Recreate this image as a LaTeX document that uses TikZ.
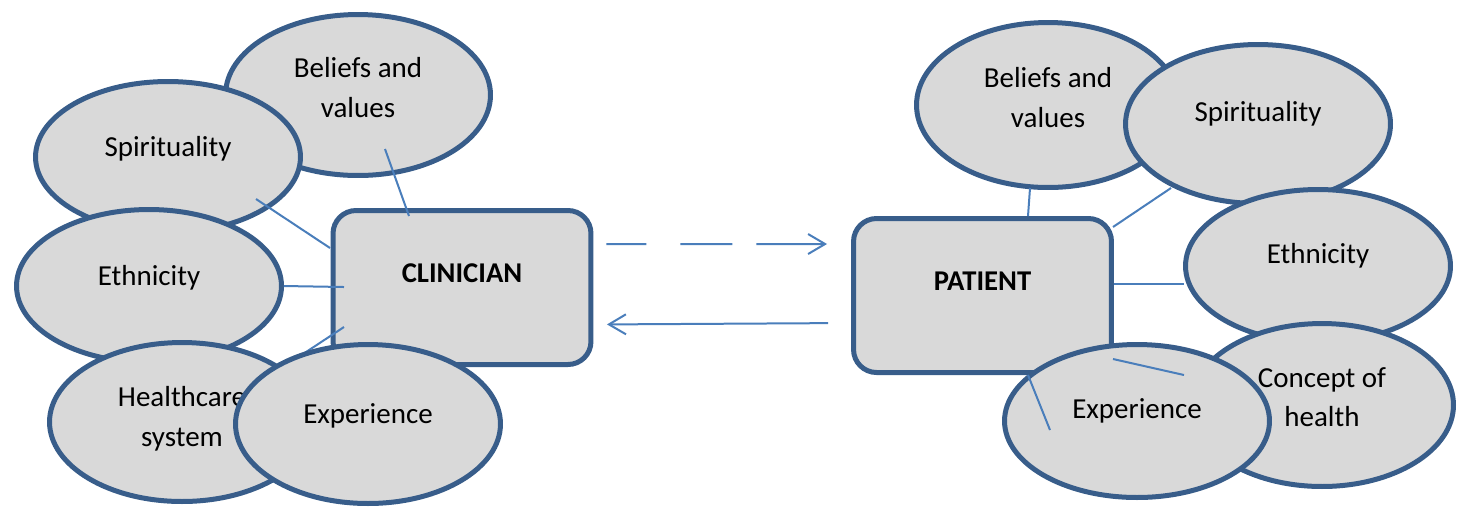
\documentclass[tikz,border=0pt]{standalone}
\usepackage{fontspec}
\setmainfont{Carlito}
\usepackage{tikz}
\usetikzlibrary{shapes.geometric, arrows.meta, positioning}

\definecolor{edgeblue}{HTML}{385D8A}
\definecolor{linkblue}{HTML}{4A7EBB}
\definecolor{bubblegray}{HTML}{D9D9D9}

\begin{document}
\begin{tikzpicture}[
        x=0.02cm, y=-0.02cm,
        bubble/.style={
            ellipse, draw=edgeblue, fill=bubblegray, line width=0.1cm,
            inner sep=0pt, align=center, text depth=12pt,
            font=\fontsize{16.5}{22.7}\selectfont
        },
        actorbox/.style={
            rectangle, rounded corners=0.46cm, draw=edgeblue, fill=bubblegray,
            line width=0.1cm, minimum width=5.16cm, minimum height=3.08cm,
            text depth=16pt, font=\fontsize{16.3}{20}\selectfont\bfseries
        },
        link/.style={draw=linkblue, line width=0.04cm},
        flow/.style={link, -{Straight Barb[length=0.34cm, width=0.4cm]}}
    ]
        \useasboundingbox (0,0) rectangle (1462,512);

        % clinician side
        \node[bubble, minimum width=5.3cm, minimum height=3.22cm, text depth=9pt] (cbel) at (358,95) {Beliefs and\\values};
        \node[bubble, minimum width=5.3cm, minimum height=3.02cm] (cspi) at (168,157) {Spirituality};
        \node[bubble, minimum width=5.3cm, minimum height=3.06cm] (ceth) at (149,286) {Ethnicity};
        \node[bubble, minimum width=5.3cm, minimum height=3.18cm, text depth=6pt] (chea) at (182,422) {Healthcare\\system};
        \node[actorbox] (clin) at (462,287.5) {CLINICIAN};

        \coordinate (cbel-in) at (385,149);
        \coordinate (clin-top) at (409,216);
        \coordinate (cspi-in) at (256,199);
        \coordinate (clin-nw) at (330,248);
        \coordinate (clin-w) at (344,287);
        \coordinate (clin-sw) at (344,327);
        \coordinate (chea-in) at (300,356);

        \draw[link] (cbel-in) -- (clin-top);
        \draw[link] (cspi-in) -- (clin-nw);
        \draw[link] (ceth.east) -- (clin-w);
        \draw[link] (clin-sw) -- (chea-in);

        \node[bubble, minimum width=5.3cm, minimum height=3.18cm] (cexp) at (368,424) {Experience};

        % patient side
        \node[bubble, minimum width=5.26cm, minimum height=3.3cm, text depth=9pt] (pbel) at (1048,105) {Beliefs and\\values};
        \node[bubble, minimum width=5.3cm, minimum height=3.18cm, text depth=14pt] (pspi) at (1258,124) {Spirituality};
        \node[bubble, minimum width=5.3cm, minimum height=3.06cm, text depth=14pt] (peth) at (1318,266) {Ethnicity};
        \node[bubble, minimum width=5.26cm, minimum height=3.26cm, text depth=9pt] (pcon) at (1322,405) {Concept of\\health};
        \node[actorbox] (pat) at (982.5,295.5) {PATIENT};

        \coordinate (pbel-in) at (1030,188);
        \coordinate (pat-top) at (1028,216);
        \coordinate (pspi-in) at (1171,188);
        \coordinate (pat-ne) at (1113,227);
        \coordinate (pat-e) at (1114,284);
        \coordinate (peth-in) at (1184,284);

        \draw[link] (pbel-in) -- (pat-top);
        \draw[link] (pspi-in) -- (pat-ne);
        \draw[link] (pat-e) -- (peth-in);

        \node[bubble, minimum width=5.3cm, minimum height=3.06cm, text depth=14pt] (pexp) at (1137,421) {Experience};

        \coordinate (pat-se) at (1113,359);
        \coordinate (pcon-in) at (1184,375);
        \coordinate (pat-s) at (1028,375);
        \coordinate (pexp-in) at (1050,430);

        \draw[link] (pat-se) -- (pcon-in);
        \draw[link] (pat-s) -- (pexp-in);

        % exchange between the two
        \draw[flow, dash pattern=on 0.8cm off 0.68cm on 1.04cm off 0.48cm on 1.6cm,
            shorten <=0.26cm, shorten >=0.48cm] ([yshift=0.87cm]clin.east) -- ([yshift=1.03cm]pat.west);
        \draw[flow, shorten <=0.46cm, shorten >=0.27cm] ([yshift=-0.55cm]pat.west) -- ([yshift=-0.74cm]clin.east);
    \end{tikzpicture}
\end{document}
